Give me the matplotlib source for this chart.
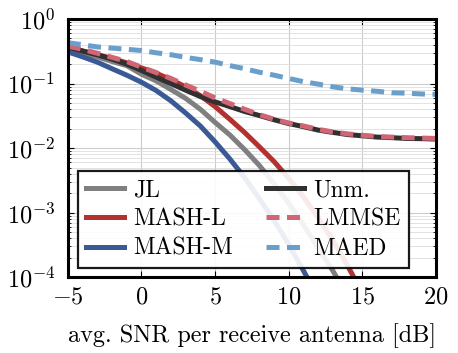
import numpy as np
import matplotlib
matplotlib.use("Agg")
import matplotlib.pyplot as plt
from matplotlib.ticker import LogLocator, NullFormatter

plt.rcParams['font.family'] = 'serif'
plt.rcParams['font.serif'] = ['cmr10', 'DejaVu Serif']
plt.rcParams['mathtext.fontset'] = 'cm'
plt.rcParams['axes.formatter.use_mathtext'] = True

snr = [-5, -4, -3, -2, -1, 0, 1, 2, 3, 4, 5, 6, 7, 8, 9, 10, 11, 12, 13, 14, 15, 16, 17, 18, 19, 20]

ber_jl = [3.5e-1, 3.0e-1, 2.6e-1, 2.2e-1, 1.9e-1, 1.4e-1, 1.1e-1, 8.1e-2, 5.9e-2, 4.0e-2, 2.5e-2, 1.6e-2,
          9.5e-3, 5.4e-3, 2.8e-3, 1.4e-3, 6.5e-4, 2.8e-4, 1.25e-4, 5.0e-5, 2.0e-5, 8e-6, 3e-6, 1e-6, 4e-7, 1.5e-7]
ber_mashl = [3.6e-1, 3.2e-1, 2.8e-1, 2.45e-1, 2.1e-1, 1.75e-1, 1.45e-1, 1.15e-1, 8.9e-2, 6.5e-2, 4.4e-2, 2.8e-2,
             1.75e-2, 1.05e-2, 6.2e-3, 3.4e-3, 1.75e-3, 8.3e-4, 3.7e-4, 1.5e-4, 5.6e-5, 2e-5, 7e-6, 2e-6, 6e-7, 2e-7]
ber_mashm = [3.1e-1, 2.6e-1, 2.15e-1, 1.7e-1, 1.35e-1, 1.05e-1, 7.8e-2, 5.4e-2, 3.5e-2, 2.2e-2, 1.25e-2, 6.8e-3,
             3.5e-3, 1.65e-3, 7.6e-4, 3.2e-4, 1.26e-4, 4.7e-5, 1.6e-5, 5e-6, 1.5e-6, 4e-7, 1e-7, 3e-8, 1e-8, 3e-9]
ber_unm = [3.7e-1, 3.2e-1, 2.8e-1, 2.4e-1, 2.0e-1, 1.6e-1, 1.26e-1, 1.0e-1, 7.9e-2, 6.3e-2, 5.2e-2, 4.4e-2,
           3.7e-2, 3.2e-2, 2.75e-2, 2.4e-2, 2.15e-2, 1.9e-2, 1.75e-2, 1.62e-2, 1.55e-2, 1.48e-2, 1.45e-2, 1.41e-2, 1.4e-2, 1.38e-2]
ber_lmmse = [3.8e-1, 3.4e-1, 2.95e-1, 2.55e-1, 2.2e-1, 1.8e-1, 1.48e-1, 1.2e-1, 9.5e-2, 7.6e-2, 6.0e-2, 4.9e-2,
             4.0e-2, 3.3e-2, 2.8e-2, 2.45e-2, 2.2e-2, 1.95e-2, 1.78e-2, 1.66e-2, 1.58e-2, 1.51e-2, 1.48e-2, 1.45e-2, 1.43e-2, 1.41e-2]
ber_maed = [4.3e-1, 4.0e-1, 3.7e-1, 3.55e-1, 3.4e-1, 3.25e-1, 3.0e-1, 2.8e-1, 2.55e-1, 2.35e-1, 2.15e-1, 1.9e-1,
            1.7e-1, 1.5e-1, 1.35e-1, 1.2e-1, 1.07e-1, 9.8e-2, 8.9e-2, 8.3e-2, 7.9e-2, 7.6e-2, 7.2e-2, 7.1e-2, 6.9e-2, 6.8e-2]

xticks = [-5, 0, 5, 10, 15, 20]
xlabel = 'avg. SNR per receive antenna [dB]'

fig = plt.figure(figsize=(4.58, 3.53), dpi=100)
ax = fig.add_axes([0.148, 0.215, 0.804, 0.731])

lw = 3.6
dash = (0, (2.6, 1.5))
ax.plot(snr, ber_jl, color='#7f7f7f', lw=lw, label='JL')
ax.plot(snr, ber_mashl, color='#b3312f', lw=lw, label='MASH-L')
ax.plot(snr, ber_mashm, color='#3a5a96', lw=lw, label='MASH-M')
ax.plot(snr, ber_unm, color='#303030', lw=lw, label='Unm.')
ax.plot(snr, ber_lmmse, color='#d06675', lw=lw, ls=dash, label='LMMSE')
ax.plot(snr, ber_maed, color='#6b9fcb', lw=lw, ls=dash, label='MAED')

ax.set_yscale('log')
ax.set_xlim(-5, 20)
ax.set_ylim(1e-4, 1)
ax.set_xticks(xticks)
ax.yaxis.set_major_locator(LogLocator(base=10, numticks=10))
ax.yaxis.set_minor_locator(LogLocator(base=10, subs=np.arange(2, 10), numticks=20))
ax.yaxis.set_minor_formatter(NullFormatter())
ax.grid(True, which='major', color='#cccccc', lw=0.8)
ax.grid(True, which='minor', axis='y', color='#dddddd', lw=0.6)
ax.set_axisbelow(True)
ax.tick_params(axis='both', which='both', direction='in', top=True, right=True, labelsize=17.5, colors='black')
ax.tick_params(which='major', length=4, width=0.8)
ax.tick_params(axis='y', which='major', pad=9)
ax.tick_params(axis='x', which='major', pad=7)
ax.tick_params(which='minor', length=2, width=0.6)
for s in ax.spines.values():
    s.set_linewidth(2.2)
ax.set_xlabel(xlabel, fontsize=17.5, labelpad=10)

leg = ax.legend(ncol=2, loc='lower left', bbox_to_anchor=(0.027, 0.035),
                fontsize=17, framealpha=0.9, fancybox=False, edgecolor='black',
                handlelength=1.6, borderpad=0.35, labelspacing=0.3, columnspacing=1.4,
                handletextpad=0.4, borderaxespad=0.0)
leg.get_frame().set_linewidth(1.6)

fig.savefig('out.png', dpi=100)
